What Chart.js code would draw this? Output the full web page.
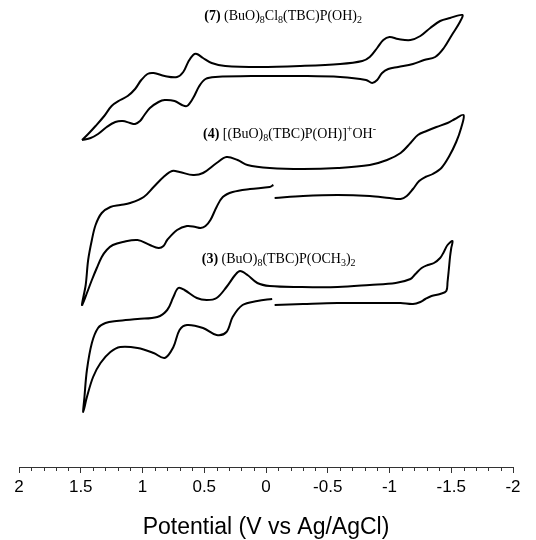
<!DOCTYPE html>
<html>
<head>
<meta charset="utf-8">
<script src="https://cdn.jsdelivr.net/npm/chart.js@4.4.1/dist/chart.umd.min.js"></script>
<style>
  html, body { margin: 0; padding: 0; background: #fff; }
  #wrap { width: 536px; height: 540px; }
</style>
</head>
<body>
<div id="wrap"><canvas id="cv" width="536" height="540"></canvas></div>
<script>
// potential in V vs Ag/AgCl; current in arbitrary units (the three CVs are stacked)
var cv7Potential = [1.49, 1.44, 1.38, 1.31, 1.25, 1.18, 1.12, 1.06, 1.01, 0.96, 0.91, 0.82, 0.72, 0.67, 0.63, 0.59, 0.56, 0.51, 0.44, 0.33,
  0.05, -0.28, -0.60, -0.78, -0.84, -0.90, -0.95, -1.00, -1.07, -1.17, -1.25, -1.33, -1.41, -1.49, -1.59,
  -1.57, -1.51, -1.44, -1.37, -1.28, -1.19, -1.07, -0.99, -0.94, -0.90, -0.86, -0.81, -0.60, -0.28, 0.05,
  0.41, 0.49, 0.54, 0.59, 0.64, 0.68, 0.74, 0.82, 0.87, 0.94, 0.99, 1.02, 1.06, 1.10, 1.16, 1.22, 1.29, 1.36, 1.42, 1.49];
var cv7Current = [327, 333, 341, 351, 361, 367, 371, 378, 387, 393, 394, 391, 390, 395, 405, 412, 413, 409, 404, 401,
  400, 401, 403, 406, 410, 419, 427, 430, 428, 427, 431, 439, 446, 449, 452,
  445, 433, 419, 410, 407, 403, 400, 398, 394, 387, 384, 387, 390, 391, 391,
  390, 388, 381, 369, 361, 362, 366, 367, 365, 359, 351, 346, 343, 344, 346, 345, 340, 333, 329, 327];

var cv4Potential = [-0.07, -0.30, -0.58, -0.84, -1.00, -1.09, -1.14, -1.19, -1.24, -1.29, -1.35, -1.42, -1.48, -1.54, -1.58, -1.60,
  -1.53, -1.47, -1.38, -1.30, -1.23, -1.17, -1.09, -0.98, -0.84, -0.58, -0.30, -0.03, 0.15, 0.23, 0.32, 0.40,
  0.51, 0.59, 0.70, 0.76, 0.83, 0.91, 0.99, 1.10, 1.18, 1.26, 1.33, 1.38, 1.41, 1.44, 1.46, 1.49,
  1.45, 1.41, 1.37, 1.33, 1.29, 1.24, 1.16, 1.04, 0.94, 0.87, 0.83, 0.80, 0.72, 0.64, 0.57, 0.53,
  0.49, 0.45, 0.40, 0.35, 0.27, 0.13, -0.03, -0.06];
var cv4Current = [269, 271, 272, 271, 269, 268, 271, 278, 286, 290, 293, 299, 310, 325, 339, 352,
  348, 344, 340, 336, 332, 324, 314, 307, 302, 299, 298, 299, 302, 307, 310, 304,
  294, 292, 295, 296, 290, 280, 270, 264, 262, 260, 254, 242, 227, 207, 182, 162,
  174, 187, 199, 210, 217, 222, 225, 227, 222, 219, 221, 227, 237, 241, 240, 239,
  241, 247, 260, 270, 275, 278, 280, 282];

var cv3Potential = [-0.07, -0.30, -0.58, -0.84, -1.09, -1.19, -1.25, -1.29, -1.34, -1.41, -1.46, -1.47, -1.48, -1.49, -1.50, -1.51,
  -1.47, -1.44, -1.41, -1.36, -1.31, -1.26, -1.21, -1.17, -1.05, -0.84, -0.58, -0.28, -0.03, 0.07, 0.15, 0.21, 0.25,
  0.32, 0.40, 0.48, 0.56, 0.66, 0.71, 0.75, 0.80, 0.88, 1.04, 1.21, 1.30, 1.36, 1.41, 1.45, 1.47, 1.48,
  1.45, 1.40, 1.34, 1.26, 1.18, 1.04, 0.91, 0.82, 0.75, 0.70, 0.64, 0.51, 0.40, 0.32, 0.27, 0.19, 0.07, -0.05];
var cv3Current = [162, 163, 164, 164, 164, 163, 165, 168, 171, 173, 176, 185, 197, 210, 219, 226,
  222, 215, 209, 204, 202, 199, 193, 188, 184, 182, 180, 180, 181, 184, 192, 196, 192,
  180, 169, 167, 169, 177, 179, 170, 157, 150, 148, 146, 144, 139, 124, 97, 70, 55,
  70, 90, 104, 115, 120, 119, 114, 109, 120, 137, 142, 139, 132, 135, 150, 162, 166, 168];

var xTickValues = [2, 1.5, 1, 0.5, 0, -0.5, -1, -1.5, -2];
var xTickLabels = ['2', '1.5', '1', '0.5', '0', '-0.5', '-1', '-1.5', '-2'];

// compound labels, anchored at (potential, current) of their left baseline
var labelPotential = [0.50, 0.51, 0.52];
var labelCurrent = [447, 329, 204];
var labelParts = [
  [['(7)', 'b'], [' (BuO)', 'n'], ['8', 'sub'], ['Cl', 'n'], ['8', 'sub'], ['(TBC)P(OH)', 'n'], ['2', 'sub']],
  [['(4)', 'b'], [' [(BuO)', 'n'], ['8', 'sub'], ['(TBC)P(OH)]', 'n'], ['+', 'sup'], ['OH', 'n'], ['-', 'sup']],
  [['(3)', 'b'], [' (BuO)', 'n'], ['8', 'sub'], ['(TBC)P(OCH', 'n'], ['3', 'sub'], [')', 'n'], ['2', 'sub']]
];

var sans = '"Liberation Sans", Arial, Helvetica, sans-serif';
var serif = '"Liberation Serif", "Times New Roman", serif';

function toPoints(xs, ys) {
  return xs.map(function (x, i) { return {x: x, y: ys[i]}; });
}

var minorTicks = {
  id: 'minorTicks',
  afterDraw: function (chart) {
    var s = chart.scales.x, ctx = chart.ctx;
    ctx.save();
    ctx.strokeStyle = '#333';
    ctx.lineWidth = 1;
    ctx.beginPath();
    for (var k = -20; k <= 20; k++) {
      if (k % 5 === 0) continue;
      var px = Math.round(s.getPixelForValue(k / 10)) + 0.5;
      ctx.moveTo(px, s.top);
      ctx.lineTo(px, s.top + 4);
    }
    ctx.stroke();
    ctx.restore();
  }
};

var curveLabels = {
  id: 'curveLabels',
  afterDatasetsDraw: function (chart) {
    var ctx = chart.ctx, xs = chart.scales.x, ys = chart.scales.y;
    ctx.save();
    ctx.fillStyle = '#000';
    ctx.textBaseline = 'alphabetic';
    labelParts.forEach(function (parts, i) {
      var x = xs.getPixelForValue(labelPotential[i]);
      var y = ys.getPixelForValue(labelCurrent[i]);
      parts.forEach(function (p) {
        var kind = p[1];
        var size = (kind === 'sub' || kind === 'sup') ? 10 : 14;
        ctx.font = (kind === 'b' ? 'bold ' : '') + size + 'px ' + serif;
        var dy = kind === 'sub' ? 3 : (kind === 'sup' ? -6 : 0);
        ctx.fillText(p[0], x, y + dy);
        x += ctx.measureText(p[0]).width;
      });
    });
    ctx.restore();
  }
};

var ctx = document.getElementById('cv').getContext('2d');
new Chart(ctx, {
  type: 'line',
  data: {
    datasets: [
      {label: '(7)', data: toPoints(cv7Potential, cv7Current)},
      {label: '(4)', data: toPoints(cv4Potential, cv4Current)},
      {label: '(3)', data: toPoints(cv3Potential, cv3Current)}
    ]
  },
  options: {
    responsive: false,
    animation: false,
    devicePixelRatio: 1,
    layout: {padding: {left: 19, right: 23, top: 0, bottom: 0}},
    elements: {
      point: {radius: 0},
      line: {borderColor: '#000', borderWidth: 2, tension: 0.35, fill: false}
    },
    plugins: {legend: {display: false}, tooltip: {enabled: false}},
    scales: {
      x: {
        type: 'linear',
        reverse: true,
        min: -2,
        max: 2,
        afterBuildTicks: function (s) {
          s.ticks = xTickValues.map(function (v) { return {value: v}; });
        },
        afterFit: function (s) { s.height = 73; },
        ticks: {
          autoSkip: false,
          maxRotation: 0,
          padding: 4,
          color: '#000',
          font: {family: sans, size: 17},
          callback: function (v) {
            var i = xTickValues.indexOf(v);
            return i < 0 ? '' : xTickLabels[i];
          }
        },
        grid: {drawOnChartArea: false, tickLength: 6, tickColor: '#333', tickWidth: 1},
        border: {color: '#333', width: 1},
        title: {
          display: true,
          text: 'Potential (V vs Ag/AgCl)',
          color: '#000',
          font: {family: sans, size: 23, lineHeight: 1.1},
          padding: {top: 0, bottom: 0}
        }
      },
      y: {display: false, min: 0, max: 467}
    }
  },
  plugins: [minorTicks, curveLabels]
});
</script>
</body>
</html>
